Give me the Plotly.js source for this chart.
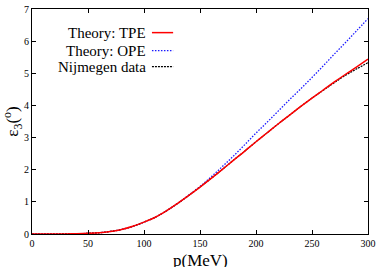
<!DOCTYPE html>
<html>
<head>
<meta charset="utf-8">
<script src="https://cdn.plot.ly/plotly-3.0.1.min.js"></script>
<style>
html,body{margin:0;padding:0;background:#fff;}
#chart{width:382px;height:267px;}
</style>
</head>
<body>
<div id="chart"></div>
<script>
var momentum = [0,10,20,30,40,50,60,70,80,90,100,110,120,130,140,150,160,170,180,190,200,210,220,230,240,250,260,270,280,290,300];
var tpe = [0,0,0,0.002,0.008,0.02,0.04,0.08,0.14,0.24,0.37,0.52,0.72,0.95,1.2,1.46,1.73,2.01,2.3,2.58,2.87,3.15,3.43,3.70,3.97,4.23,4.48,4.73,4.97,5.2,5.44];
var ope = [0,0,0,0.002,0.008,0.02,0.04,0.08,0.14,0.24,0.37,0.52,0.72,0.95,1.21,1.48,1.78,2.1,2.43,2.78,3.14,3.48,3.83,4.18,4.52,4.87,5.23,5.6,5.96,6.33,6.7];
var nijmegen = [0,0,0,0.002,0.008,0.02,0.04,0.08,0.14,0.24,0.37,0.52,0.72,0.95,1.2,1.46,1.73,2.01,2.3,2.58,2.87,3.15,3.43,3.70,3.97,4.23,4.47,4.71,4.94,5.14,5.33];
var seriesNames = ["Theory: TPE","Theory: OPE","Nijmegen data"];
var xTicks = [0,50,100,150,200,250,300];
var yTicks = [0,1,2,3,4,5,6,7];
var xTitle = "p(MeV)";
var yTitle = "ε<sub>3</sub>(<sup>o</sup>)";

var serif = "Liberation Serif";
var styles = [
  {color:"#ff0000", width:1.5, dash:"solid"},
  {color:"#1a1aff", width:1.3, dash:"1.5px,1.5px"},
  {color:"#000000", width:1.2, dash:"2px,1px"}
];
var ys = [tpe, ope, nijmegen];
var traces = [];
[1,2,0].forEach(function(i){
  traces.push({x:momentum, y:ys[i], type:"scatter", mode:"lines", name:seriesNames[i],
    line:{color:styles[i].color, width:styles[i].width, dash:styles[i].dash, shape:"spline"}, showlegend:false});
});

var legY = [0.895, 0.815, 0.744];
var annotations = [], shapes = [];
seriesNames.forEach(function(n,i){
  annotations.push({xref:"paper", yref:"paper", x:0.345, y:legY[i], xanchor:"right", yanchor:"middle",
    text:n, showarrow:false, font:{family:serif, size:15, color:"#000"}});
  shapes.push({type:"line", xref:"paper", yref:"paper", x0:0.357, x1:0.42, y0:legY[i], y1:legY[i],
    line:{color:styles[i].color, width:styles[i].width, dash:styles[i].dash}});
});
annotations.push({xref:"paper", yref:"paper", x:0.5, y:-0.118, xanchor:"center", yanchor:"middle",
  text:xTitle, showarrow:false, font:{family:serif, size:17, color:"#000"}});

function axis(range, ticks){
  return {range:range, tickvals:ticks, ticktext:ticks.map(String),
    showgrid:false, zeroline:false, showline:true, linecolor:"#000", linewidth:1,
    mirror:"allticks", ticks:"inside", ticklen:4, tickcolor:"#000", tickwidth:1,
    tickfont:{family:serif, size:10, color:"#000"}};
}

var yAxis = axis([0,7], yTicks);
yAxis.title = {text:yTitle, font:{family:serif, size:17, color:"#000"}, standoff:4};

var layout = {
  width:382, height:267,
  margin:{l:32, r:14, t:9, b:33},
  paper_bgcolor:"#fff", plot_bgcolor:"#fff",
  font:{family:serif, color:"#000"},
  xaxis:axis([0,300], xTicks),
  yaxis:yAxis,
  annotations:annotations,
  shapes:shapes
};
Plotly.newPlot("chart", traces, layout, {displayModeBar:false, staticPlot:true});
</script>
</body>
</html>
